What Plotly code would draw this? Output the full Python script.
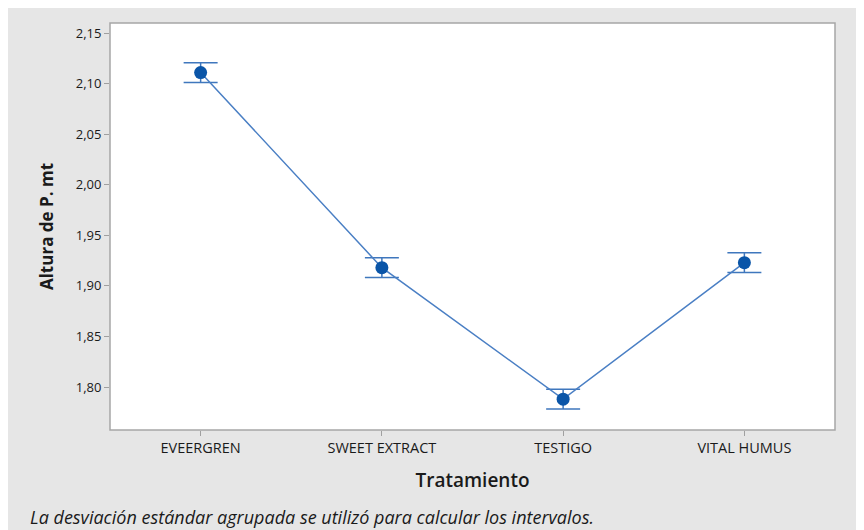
import plotly.graph_objects as go

categories = ["EVEERGREN", "SWEET EXTRACT", "TESTIGO", "VITAL HUMUS"]
means = [2.111, 1.918, 1.788, 1.923]
ci_half = [0.0098, 0.0098, 0.0098, 0.0098]
y_ticks = [1.80, 1.85, 1.90, 1.95, 2.00, 2.05, 2.10, 2.15]

# page body margin (8px) offsets the figure, so the figure is slightly smaller
W, H = 856, 522
L, R, T, B = 102, 29, 15, 100
pw, ph = W - L - R, H - T - B

def px2x(p):
    return (p - L) / pw

def py2y(p):
    return 1 - (p - T) / ph

fig = go.Figure()
fig.add_trace(go.Scatter(
    x=categories, y=means, mode="lines+markers",
    line=dict(color="#4a7fc4", width=1.5),
    marker=dict(color="#0a55a8", size=13),
    error_y=dict(type="data", array=ci_half, visible=True,
                 color="#3f77bd", thickness=1.5, width=17),
    showlegend=False,
))

font_fam = "Open Sans, Noto Sans, sans-serif"
fig.update_layout(
    width=W, height=H,
    margin=dict(l=L, r=R, t=T, b=B),
    paper_bgcolor="#e6e6e6",
    plot_bgcolor="white",
    separators=",.",
    font=dict(family=font_fam, color="#1a1a1a"),
    shapes=[
        dict(type="rect", xref="paper", yref="paper", layer="above",
             x0=0, x1=1, y0=0, y1=1,
             fillcolor="rgba(0,0,0,0)", line=dict(color="#a6a6a6", width=1.5)),
    ],
    xaxis=dict(
        range=[-0.5, 3.5], showgrid=False, zeroline=False,
        ticks="outside", ticklen=5, tickcolor="#a0a0a0",
        tickfont=dict(size=14.5, color="#1a1a1a", weight=500),
        title=dict(text="Tratamiento", font=dict(size=19, color="#1a1a1a", weight=600), standoff=17),
        showline=False,
    ),
    yaxis=dict(
        range=[1.7575, 2.16], tickvals=y_ticks, tickformat=".2f",
        showgrid=False, zeroline=False,
        ticks="outside", ticklen=5, tickcolor="#a0a0a0",
        tickfont=dict(size=13, color="#1a1a1a", weight=500),
        title=dict(text="<b>Altura de P. mt</b>", font=dict(size=17, color="#1a1a1a"), standoff=17),
        showline=False,
    ),
    annotations=[
        dict(text="<i>La desviación estándar agrupada se utilizó para calcular los intervalos.</i>",
             xref="paper", yref="paper", x=px2x(20), y=py2y(509),
             xanchor="left", yanchor="middle", showarrow=False,
             font=dict(size=18, color="#1a1a1a")),
    ],
)

fig.write_html("out.html")
